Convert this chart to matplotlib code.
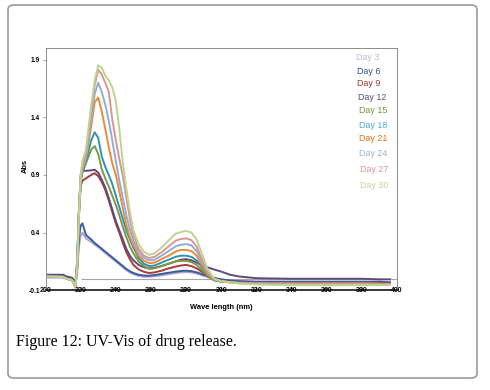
import matplotlib
matplotlib.use("Agg")
from matplotlib import pyplot as plt
from matplotlib.patches import FancyBboxPatch

# wavelength grid (nm)
wavelength = [200, 210, 212, 215, 217, 218, 219, 220, 221, 223, 226, 228, 230, 232, 234,
              236, 238, 240, 242, 244, 246, 248, 250, 253, 256, 259, 262, 266, 270, 274,
              277, 280, 283, 286, 289, 292, 296, 300, 305, 310, 320, 340, 360, 380, 390, 396]

day3 = [0.01, 0.01, 0.0, -0.01, -0.06, 0.05, 0.28, 0.37, 0.40, 0.35, 0.32, 0.295, 0.275, 0.25, 0.225,
        0.2, 0.175, 0.15, 0.125, 0.1, 0.075, 0.055, 0.04, 0.025, 0.018, 0.018, 0.022, 0.03, 0.04, 0.05,
        0.055, 0.058, 0.055, 0.045, 0.03, 0.015, 0.0, -0.01, -0.02, -0.025, -0.03, -0.03, -0.03, -0.03, -0.035, -0.035]
day6 = [0.015, 0.015, 0.005, -0.005, -0.05, 0.08, 0.35, 0.46, 0.48, 0.38, 0.34, 0.31, 0.285, 0.26, 0.235,
        0.21, 0.185, 0.16, 0.135, 0.11, 0.085, 0.065, 0.05, 0.035, 0.028, 0.027, 0.032, 0.042, 0.052, 0.062,
        0.067, 0.07, 0.066, 0.056, 0.04, 0.025, 0.008, -0.005, -0.015, -0.02, -0.025, -0.025, -0.025, -0.025, -0.025, -0.03]
day9 = [0.015, 0.015, 0.0, -0.01, -0.07, 0.12, 0.55, 0.80, 0.85, 0.87, 0.90, 0.915, 0.89, 0.84, 0.77,
        0.68, 0.58, 0.48, 0.40, 0.31, 0.23, 0.17, 0.12, 0.08, 0.06, 0.05, 0.055, 0.07, 0.09, 0.105,
        0.115, 0.12, 0.11, 0.09, 0.06, 0.025, -0.01, -0.02, -0.025, -0.03, -0.035, -0.035, -0.035, -0.035, -0.035, -0.04]
day12 = [0.035, 0.035, 0.02, 0.01, -0.03, 0.15, 0.6, 0.9, 0.94, 0.935, 0.94, 0.945, 0.92, 0.86, 0.79,
         0.70, 0.60, 0.50, 0.42, 0.34, 0.26, 0.20, 0.16, 0.12, 0.10, 0.09, 0.095, 0.11, 0.13, 0.15,
         0.165, 0.17, 0.16, 0.14, 0.12, 0.10, 0.08, 0.062, 0.035, 0.02, 0.005, 0.0, 0.0, 0.0, -0.005, -0.005]
day15 = [0.02, 0.015, 0.0, -0.01, -0.06, 0.1, 0.55, 0.84, 0.92, 1.0, 1.12, 1.15, 1.08, 0.95, 0.87,
         0.80, 0.72, 0.64, 0.55, 0.45, 0.36, 0.28, 0.22, 0.15, 0.11, 0.085, 0.09, 0.11, 0.13, 0.15,
         0.155, 0.155, 0.145, 0.12, 0.075, 0.025, -0.015, -0.025, -0.03, -0.035, -0.04, -0.04, -0.04, -0.04, -0.04, -0.045]
day18 = [0.02, 0.015, 0.0, -0.01, -0.06, 0.1, 0.55, 0.85, 0.93, 1.02, 1.2, 1.27, 1.22, 1.06, 0.97,
         0.90, 0.82, 0.72, 0.62, 0.52, 0.42, 0.34, 0.27, 0.18, 0.13, 0.11, 0.115, 0.14, 0.165, 0.19,
         0.20, 0.20, 0.19, 0.16, 0.10, 0.04, -0.01, -0.025, -0.03, -0.035, -0.04, -0.045, -0.045, -0.045, -0.045, -0.045]
day21 = [0.02, 0.015, 0.0, -0.01, -0.065, 0.1, 0.55, 0.86, 0.95, 1.04, 1.32, 1.53, 1.57, 1.45, 1.30,
         1.14, 1.0, 0.9, 0.76, 0.61, 0.47, 0.36, 0.29, 0.2, 0.155, 0.135, 0.14, 0.17, 0.2, 0.235,
         0.25, 0.25, 0.24, 0.2, 0.12, 0.045, -0.01, -0.025, -0.03, -0.035, -0.04, -0.04, -0.04, -0.04, -0.045, -0.045]
day24 = [0.02, 0.015, 0.0, -0.01, -0.07, 0.1, 0.55, 0.87, 0.96, 1.05, 1.38, 1.6, 1.70, 1.62, 1.51,
         1.37, 1.2, 1.02, 0.85, 0.70, 0.55, 0.43, 0.33, 0.23, 0.18, 0.16, 0.165, 0.2, 0.24, 0.28,
         0.295, 0.30, 0.29, 0.24, 0.15, 0.06, -0.005, -0.02, -0.03, -0.035, -0.04, -0.045, -0.045, -0.045, -0.05, -0.05]
day27 = [0.02, 0.015, 0.0, -0.01, -0.07, 0.1, 0.55, 0.88, 0.98, 1.08, 1.45, 1.68, 1.81, 1.77, 1.70,
         1.62, 1.38, 1.2, 1.04, 0.89, 0.7, 0.52, 0.38, 0.26, 0.2, 0.18, 0.19, 0.23, 0.28, 0.33,
         0.345, 0.35, 0.335, 0.28, 0.17, 0.07, 0.0, -0.02, -0.03, -0.04, -0.045, -0.05, -0.05, -0.05, -0.05, -0.05]
day30 = [0.02, 0.015, 0.0, -0.01, -0.06, 0.1, 0.55, 0.9, 1.02, 1.12, 1.5, 1.72, 1.85, 1.83, 1.76,
         1.72, 1.66, 1.54, 1.30, 1.0, 0.78, 0.58, 0.42, 0.3, 0.235, 0.207, 0.22, 0.27, 0.33, 0.39,
         0.405, 0.415, 0.4, 0.34, 0.22, 0.09, 0.0, -0.02, -0.03, -0.04, -0.05, -0.055, -0.055, -0.055, -0.055, -0.055]

labels = ["Day 3", "Day 6", "Day 9", "Day 12", "Day 15", "Day 18", "Day 21", "Day 24", "Day 27", "Day 30"]
series = [day3, day6, day9, day12, day15, day18, day21, day24, day27, day30]
line_colors = ["#aaa3d2", "#3d5c9c", "#a9393a", "#604a7b", "#7c9a40", "#2f93b3",
               "#ee8a37", "#8fadd6", "#d99694", "#bcd58e"]
text_colors = ["#b9b9d2", "#2f4f8f", "#943634", "#5f497a", "#76923c", "#4bacc6",
               "#e36c09", "#95b3d7", "#d99694", "#c3d69b"]

x_ticks = [200, 220, 240, 260, 280, 300, 320, 340, 360, 380, 400]
y_ticks = [-0.1, 0.4, 0.9, 1.4, 1.9]

fig = plt.figure(figsize=(4.9, 3.9), dpi=100)

# outer rounded frame
frame = FancyBboxPatch((8 / 490, 1 - 378 / 390), 469 / 490, 373 / 390,
                       boxstyle="round,pad=0,rounding_size=0.012", transform=fig.transFigure,
                       fill=False, edgecolor="#9a9a9a", linewidth=1.2)
fig.patches.append(frame)

ax = fig.add_axes([45.5 / 490, (390 - 290.3) / 390, 351.5 / 490, 242.3 / 390])

ax.hlines(0, 220, 400, color="#a6a6a6", linewidth=0.8, zorder=1)
for vals, c in zip(series, line_colors):
    ax.plot(wavelength, vals, color=c, linewidth=1.4, zorder=2)

ax.set_xlim(200, 400)
ax.set_ylim(-0.1, 2.0)
ax.set_xticks(x_ticks)
ax.set_xticklabels([str(t) for t in x_ticks], fontsize=5, fontweight="bold", family="Liberation Sans")
ax.set_yticks(y_ticks)
ax.set_yticklabels(["-0.1", "0.4", "0.9", "1.4", "1.9"], fontsize=4.8, fontweight="bold", family="Liberation Sans")
ax.tick_params(axis="x", direction="in", length=2, width=0.5, pad=-2.4)
ax.tick_params(axis="y", direction="out", length=2, width=0.5, color="#868686", pad=2)

for side in ["top", "right", "left"]:
    ax.spines[side].set_color("#8c8c8c")
    ax.spines[side].set_linewidth(0.7)
ax.spines["bottom"].set_color("black")
ax.spines["bottom"].set_linewidth(1.1)

# legend as coloured labels
legend_x = [356.0, 356.7, 357.3, 357.7, 358.7, 358.7, 358.7, 359.0, 360.0, 360.3]
legend_y = [57.3, 71.0, 84.0, 97.0, 110.7, 125.0, 138.7, 153.3, 169.3, 185.0]
for lab, c, lx, ly in zip(labels, text_colors, legend_x, legend_y):
    fig.text(lx / 490, 1 - ly / 390, lab, color=c, fontsize=6.4, family="Liberation Sans",
             ha="left", va="center")

fig.text(221.5 / 490, 1 - 307.3 / 390, "Wave length (nm)", fontsize=5.4, fontweight="bold",
         family="Liberation Sans", ha="center", va="center")
fig.text(25 / 490, 1 - 166 / 390, "Abs", fontsize=5.4, fontweight="bold", rotation=90,
         family="Liberation Sans", ha="center", va="center")

fig.text(15.5 / 490, 1 - 342 / 390, "Figure 12: UV-Vis of drug release.", fontsize=11.5,
         family="Liberation Serif", ha="left", va="center")

fig.savefig("out.png", dpi=100)
